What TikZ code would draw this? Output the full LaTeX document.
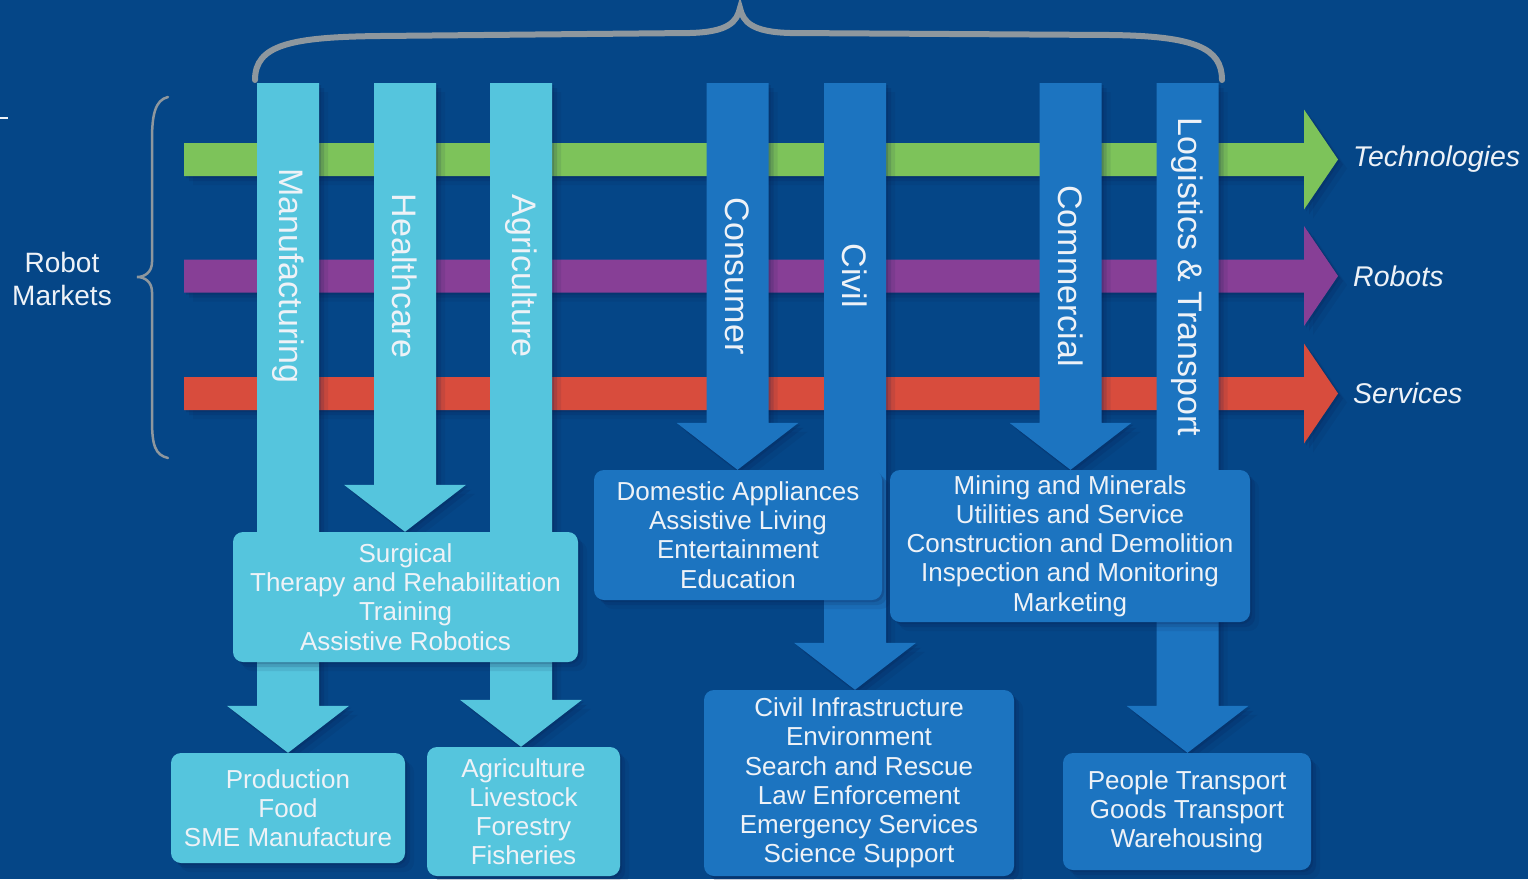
\documentclass[tikz,border=0pt]{standalone}
\usepackage{fontspec}
\setmainfont{Liberation Sans}
\usetikzlibrary{calc,shadows}

\definecolor{bgblue}{HTML}{054687}
\definecolor{lightbar}{HTML}{55C5DD}
\definecolor{darkbar}{HTML}{1C74C0}
\definecolor{techgreen}{HTML}{7DC35A}
\definecolor{robpurple}{HTML}{873F96}
\definecolor{servred}{HTML}{D84C3D}
\definecolor{bracegrey}{HTML}{8E979E}
\definecolor{txt}{HTML}{EEF2F7}
\definecolor{shadowblue}{HTML}{0A1A48}

\pgfdeclarelayer{back}
\pgfdeclarelayer{bars}
\pgfsetlayers{back,bars,main}

\tikzset{
	barshadow/.style = {
		drop shadow={shadow xshift=2pt, shadow yshift=-2pt, opacity=0.18, fill=shadowblue},
		drop shadow={shadow xshift=5pt, shadow yshift=-5pt, opacity=0.14, fill=shadowblue},
		drop shadow={shadow xshift=9pt, shadow yshift=-9pt, opacity=0.09, fill=shadowblue}},
	market/.style    = {rounded corners=10pt, inner sep=0pt, align=center,
		text=txt, font=\fontsize{26}{29.2}\selectfont, barshadow},
	sector/.style    = {rotate=-90, inner sep=0pt, text=txt,
		font=\fontsize{34}{40}\selectfont},
	rowlabel/.style  = {anchor=west, inner sep=0pt, text=txt,
		font=\fontsize{28.5}{33}\selectfont\itshape}
}

% wide arrow downwards: start, tip, colour
\newcommand{\barto}[3]{%
	\fill[#3, barshadow] let \p1=(#1), \p2=(#2) in
	(\x1-31pt,\y1) -- (\x1+31pt,\y1) -- (\x1+31pt,\y2+47pt) -- (\x1+61pt,\y2+47pt)
	-- (\x1,\y2) -- (\x1-61pt,\y2+47pt) -- (\x1-31pt,\y2+47pt) -- cycle;}
% wide arrow to the right: start, tip, colour
\newcommand{\barright}[3]{%
	\fill[#3, barshadow] let \p1=(#1), \p2=(#2) in
	(\x1,\y1+16.5pt) -- (\x2-34pt,\y1+16.5pt) -- (\x2-34pt,\y1+50pt) -- (\x2,\y1)
	-- (\x2-34pt,\y1-50pt) -- (\x2-34pt,\y1-16.5pt) -- (\x1,\y1-16.5pt) -- cycle;}

\begin{document}
\begin{tikzpicture}[x=1pt, y=-1pt]
	\begin{pgfonlayer}{back}
		\fill[bgblue] (0,0) rectangle (1528,879);
	\end{pgfonlayer}
	\useasboundingbox (0,0) rectangle (1528,879);
	
	\coordinate (techstart) at (184,159.5);
	\coordinate (techend) at (1338,159.5);
	\coordinate (robstart) at (184,276);
	\coordinate (robend) at (1338,276);
	\coordinate (servstart) at (184,393.5);
	\coordinate (servend) at (1338,393.5);
	
	\coordinate (manutop) at (288,83);
	\coordinate (healthtop) at (405,83);
	\coordinate (agritop) at (521,83);
	\coordinate (constop) at (737.5,83);
	\coordinate (civiltop) at (855,83);
	\coordinate (commtop) at (1070.5,83);
	\coordinate (logitop) at (1187.5,83);
	
	% application boxes
	\draw
	node at (405.5,597)[market, fill=lightbar, minimum width=345pt, minimum height=130pt] (health)
		{Surgical\\Therapy and Rehabilitation\\Training\\Assistive Robotics}
	node at (288,808)[market, fill=lightbar, minimum width=234pt, minimum height=110pt] (prod)
		{Production\\Food\\SME Manufacture}
	node at (523.5,811.5)[market, fill=lightbar, minimum width=193pt, minimum height=129pt] (agri)
		{Agriculture\\Livestock\\Forestry\\Fisheries}
	node at (738,535)[market, fill=darkbar, minimum width=288pt, minimum height=130pt] (domestic)
		{Domestic Appliances\\Assistive Living\\Entertainment\\Education}
	node at (1070,546)[market, fill=darkbar, minimum width=360pt, minimum height=152pt] (mining)
		{Mining and Minerals\\Utilities and Service\\Construction and Demolition\\Inspection and Monitoring\\Marketing}
	node at (859,783)[market, fill=darkbar, minimum width=310pt, minimum height=186pt] (civilbox)
		{Civil Infrastructure\\Environment\\Search and Rescue\\Law Enforcement\\Emergency Services\\Science Support}
	node at (1187,811.5)[market, fill=darkbar, minimum width=248pt, minimum height=117pt] (people)
		{People Transport\\Goods Transport\\Warehousing}
	;
	
	\begin{pgfonlayer}{back}
		\barright{techstart}{techend}{techgreen}
		\barright{robstart}{robend}{robpurple}
		\barright{servstart}{servend}{servred}
	\end{pgfonlayer}
	
	\begin{pgfonlayer}{bars}
		\barto{manutop}{manutop |- prod.north}{lightbar}
		\barto{healthtop}{healthtop |- health.north}{lightbar}
		\barto{agritop}{agritop |- agri.north}{lightbar}
		\barto{constop}{constop |- domestic.north}{darkbar}
		\barto{civiltop}{civiltop |- civilbox.north}{darkbar}
		\barto{commtop}{commtop |- mining.north}{darkbar}
		\barto{logitop}{logitop |- people.north}{darkbar}
	\end{pgfonlayer}
	
	% sector labels
	\draw
	node at (288,276)[sector] (manu) {Manufacturing}
	node at (405,276)[sector] (hc) {Healthcare}
	node at (521,276)[sector] (agr) {Agriculture}
	node at (737.5,276)[sector] (cons) {Consumer}
	node at (855,276)[sector] (civ) {Civil}
	node at (1070.5,276)[sector] (comm) {Commercial}
	node at (1187.5,277)[sector] (logi) {Logistics \& Transport}
	;
	
	\draw
	node at (1353,159.5)[rowlabel] (tech) {Technologies}
	node at (1353,276)[rowlabel] (rob) {Robots}
	node at (1353,393.5)[rowlabel] (serv) {Services}
	node at (62,279)[align=center, inner sep=0pt, text=txt,
		font=\fontsize{28}{33}\selectfont] (markets) {Robot\\Markets}
	;
	
	% braces
	\draw[bracegrey, line width=6pt, line cap=round]
	(255,80) .. controls (255,45) and (290,37) .. (380,36) -- (690,33)
	.. controls (728,32) and (737,22) .. (740,8)
	.. controls (743,22) and (752,32) .. (790,33) -- (1110,35)
	.. controls (1195,36) and (1222,48) .. (1222,80);
	\draw[bracegrey, line width=2.5pt, line cap=round]
	(168,97) .. controls (155,100) and (152,115) .. (152,140) -- (152,262)
	.. controls (152,272) and (145,277) .. (137,277)
	.. controls (145,277) and (152,282) .. (152,292) -- (152,420)
	.. controls (152,445) and (155,455) .. (168,458);
	\draw[txt, line width=2pt] (0,118) -- (8,118);
\end{tikzpicture}
\end{document}
